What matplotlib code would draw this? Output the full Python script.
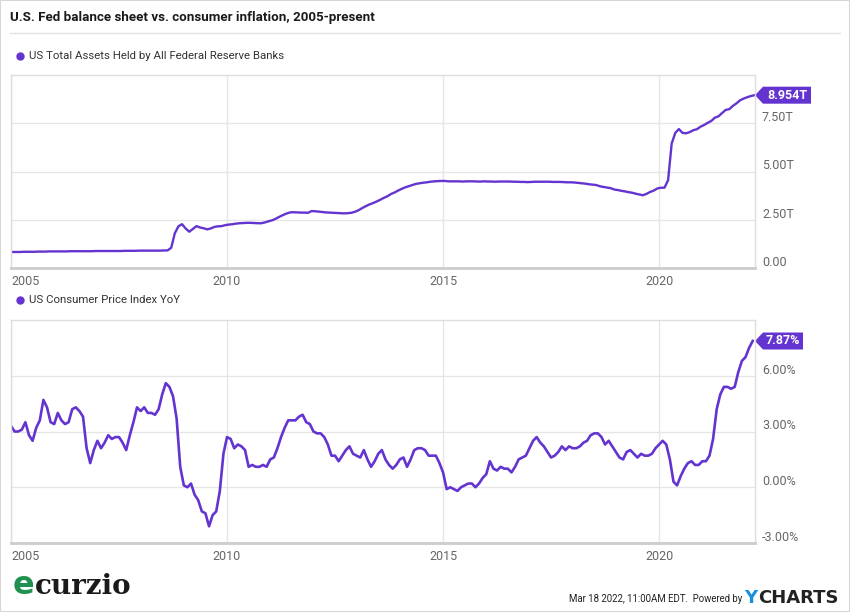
import numpy as np
import matplotlib.pyplot as plt
import matplotlib.transforms as mtransforms
from matplotlib.patches import Polygon, Rectangle
from matplotlib.lines import Line2D

plt.rcParams['font.family'] = ['Roboto', 'DejaVu Sans']

# Fed total assets, trillions USD, monthly Jan 2005 - Mar 2022
fed_assets = [
    0.83, 0.83, 0.83, 0.84, 0.84, 0.84, 0.84, 0.85, 0.85, 0.85, 0.86, 0.86,
    0.86, 0.86, 0.86, 0.86, 0.87, 0.87, 0.87, 0.87, 0.87, 0.87, 0.87, 0.88,
    0.88, 0.88, 0.88, 0.88, 0.88, 0.88, 0.88, 0.89, 0.89, 0.89, 0.89, 0.90,
    0.90, 0.90, 0.90, 0.90, 0.90, 0.90, 0.91, 0.91, 1.05, 1.80, 2.16, 2.27,
    2.05, 1.88, 2.02, 2.17, 2.10, 2.06, 2.00, 2.05, 2.13, 2.16, 2.17, 2.22,
    2.25, 2.27, 2.30, 2.32, 2.33, 2.34, 2.34, 2.33, 2.32, 2.32, 2.36, 2.42,
    2.47, 2.55, 2.65, 2.74, 2.82, 2.88, 2.89, 2.88, 2.87, 2.87, 2.86, 2.95,
    2.94, 2.92, 2.90, 2.88, 2.87, 2.86, 2.85, 2.84, 2.83, 2.84, 2.86, 2.91,
    2.99, 3.10, 3.20, 3.29, 3.36, 3.44, 3.53, 3.63, 3.71, 3.83, 3.91, 4.01,
    4.10, 4.18, 4.24, 4.30, 4.36, 4.39, 4.42, 4.44, 4.47, 4.49, 4.50, 4.51,
    4.51, 4.49, 4.49, 4.49, 4.49, 4.48, 4.49, 4.49, 4.49, 4.48, 4.48, 4.49,
    4.48, 4.48, 4.47, 4.48, 4.48, 4.48, 4.48, 4.47, 4.47, 4.46, 4.46, 4.45,
    4.46, 4.47, 4.47, 4.47, 4.47, 4.47, 4.46, 4.46, 4.46, 4.45, 4.44, 4.44,
    4.43, 4.41, 4.39, 4.37, 4.34, 4.32, 4.30, 4.24, 4.20, 4.17, 4.14, 4.07,
    4.04, 4.00, 3.97, 3.93, 3.90, 3.85, 3.81, 3.77, 3.84, 3.94, 4.01, 4.12,
    4.16, 4.16, 4.55, 6.45, 7.00, 7.20, 7.00, 6.98, 7.04, 7.14, 7.19, 7.32,
    7.41, 7.52, 7.62, 7.79, 7.86, 8.03, 8.19, 8.23, 8.40, 8.53, 8.69, 8.78,
    8.85, 8.91, 8.954,
]

# US CPI year-over-year, %, monthly Dec 2004 - Feb 2022
cpi_yoy = [
    3.3,
    3.0, 3.0, 3.1, 3.5, 2.8, 2.5, 3.2, 3.6, 4.7, 4.3, 3.5, 3.4,
    4.0, 3.6, 3.4, 3.5, 4.2, 4.3, 4.1, 3.8, 2.1, 1.3, 2.0, 2.5,
    2.1, 2.4, 2.8, 2.6, 2.7, 2.7, 2.4, 2.0, 2.8, 3.5, 4.3, 4.1,
    4.3, 4.0, 4.0, 3.9, 4.2, 5.0, 5.6, 5.4, 4.9, 3.7, 1.1, 0.1,
    0.0, 0.2, -0.4, -0.7, -1.3, -1.4, -2.1, -1.5, -1.3, -0.2, 1.8, 2.7,
    2.6, 2.1, 2.3, 2.2, 2.0, 1.1, 1.2, 1.1, 1.1, 1.2, 1.1, 1.5,
    1.6, 2.1, 2.7, 3.2, 3.6, 3.6, 3.6, 3.8, 3.9, 3.5, 3.4, 3.0,
    2.9, 2.9, 2.7, 2.3, 1.7, 1.7, 1.4, 1.7, 2.0, 2.2, 1.8, 1.7,
    1.6, 2.0, 1.5, 1.1, 1.4, 1.8, 2.0, 1.5, 1.2, 1.0, 1.2, 1.5,
    1.6, 1.1, 1.5, 2.0, 2.1, 2.1, 2.0, 1.7, 1.7, 1.7, 1.3, 0.8,
    -0.1, 0.0, -0.1, -0.2, 0.0, 0.1, 0.2, 0.2, 0.0, 0.2, 0.5, 0.7,
    1.4, 1.0, 0.9, 1.1, 1.0, 1.0, 0.8, 1.1, 1.5, 1.6, 1.7, 2.1,
    2.5, 2.7, 2.4, 2.2, 1.9, 1.6, 1.7, 1.9, 2.2, 2.0, 2.2, 2.1,
    2.1, 2.2, 2.4, 2.5, 2.8, 2.9, 2.9, 2.7, 2.3, 2.5, 2.2, 1.9,
    1.6, 1.5, 1.9, 2.0, 1.8, 1.6, 1.8, 1.7, 1.7, 1.8, 2.1, 2.3,
    2.5, 2.3, 1.5, 0.3, 0.1, 0.6, 1.0, 1.3, 1.4, 1.2, 1.2, 1.4,
    1.4, 1.7, 2.6, 4.2, 5.0, 5.4, 5.4, 5.3, 5.4, 6.2, 6.8, 7.0,
    7.5, 7.87,
]

year_ticks = [2005, 2010, 2015, 2020]
fed_ticks = [0, 2.5, 5.0, 7.5]
fed_labels = ['0.00', '2.50T', '5.00T', '7.50T']
cpi_ticks = [-3, 0, 3, 6]
cpi_labels = ['-3.00%', '0.00%', '3.00%', '6.00%']

purple = '#6334cf'
W, H = 850, 612

fed_x = 2005 + (np.arange(len(fed_assets)) + 0.5) / 12
cpi_x = 2005 + np.arange(len(cpi_yoy)) / 12

fig = plt.figure(figsize=(8.5, 6.12), dpi=100)


def px(x, y):
    return x / W, 1 - y / H


def make_axes(top, bottom):
    ax = fig.add_axes([11 / W, 1 - bottom / H, 744 / W, (bottom - top) / H])
    return ax


def style(ax, ticks, labels, ylim, last_val, last_txt, badge_w):
    ax.set_xlim(2005, 2022.22)
    ax.set_ylim(*ylim)
    ax.set_yticks(ticks)
    ax.set_xticks(year_ticks)
    ax.set_xticklabels([str(y) for y in year_ticks])
    ax.tick_params(left=False, labelleft=False, bottom=False, length=0,
                   labelsize=9, labelcolor='#666666', pad=5)
    ax.get_xticklabels()[0].set_horizontalalignment('left')
    ax.grid(color='#e6e6e6', lw=1)
    ax.set_axisbelow(True)
    for s in ax.spines.values():
        s.set_color('#dddddd')
        s.set_linewidth(1)
    ax.spines['bottom'].set_color('#cccccc')
    ax.spines['bottom'].set_linewidth(2)
    yt = ax.get_yaxis_transform()
    for v, lbl in zip(ticks, labels):
        ax.annotate(lbl, xy=(1, v), xycoords=yt, xytext=(5, 4),
                    textcoords='offset points', ha='left', va='center',
                    fontsize=9, color='#666666', annotation_clip=False)
    # value badge with arrow
    tr = fig.dpi_scale_trans + mtransforms.ScaledTranslation(1, last_val, yt)
    h = 0.085
    badge = Polygon([(0, 0), (0.08, h), (badge_w, h), (badge_w, -h), (0.08, -h)],
                    closed=True, transform=tr, fc=purple, ec='none', clip_on=False)
    ax.add_artist(badge)
    ax.annotate(last_txt, xy=(1, last_val), xycoords=yt,
                xytext=((badge_w + 0.08) / 2 * 72, 0), textcoords='offset points',
                ha='center', va='center', fontsize=9, fontweight='bold',
                color='white', annotation_clip=False)


ax1 = make_axes(75, 268)
ax1.plot(fed_x, fed_assets, color=purple, lw=1.7)
style(ax1, fed_ticks, fed_labels, (0, 10), fed_assets[-1], '8.954T', 0.56)

ax2 = make_axes(320, 543)
ax2.plot(cpi_x, cpi_yoy, color=purple, lw=1.9)
style(ax2, cpi_ticks, cpi_labels, (-3, 9), cpi_yoy[-1], '7.87%', 0.48)

# title and separator
fig.text(*px(10, 17), 'U.S. Fed balance sheet vs. consumer inflation, 2005-present',
         fontsize=9.6, fontweight='bold', color='#1a1a1a', va='center')
fig.add_artist(Line2D([10 / W, 840 / W], [1 - 33 / H] * 2, color='#e2e2e2', lw=1,
                      transform=fig.transFigure))

# series labels
for y, name in [(56, 'US Total Assets Held by All Federal Reserve Banks'),
                (300, 'US Consumer Price Index YoY')]:
    fig.add_artist(Line2D([20 / W], [1 - y / H], marker='o', ms=5, color=purple,
                          transform=fig.transFigure))
    fig.text(*px(29, y), name, fontsize=8.2, color='#333333', va='center')

# footer
fig.text(*px(13, 586), 'e', fontsize=23, fontweight='bold', color='#1f9150',
         family='DejaVu Sans', va='center')
fig.text(*px(35, 586), 'curzio', fontsize=20, fontweight='bold', color='#1a1a1a',
         family='DejaVu Serif', va='center')
fig.text(*px(742, 599), 'Mar 18 2022, 11:00AM EDT.  Powered by', fontsize=6.9,
         color='#222222', ha='right', va='center')
fig.text(*px(744, 598), 'Y', fontsize=13, fontweight='bold', color='#1a8fe0',
         family='DejaVu Sans', va='center')
fig.text(*px(758, 598), 'CHARTS', fontsize=13, fontweight='bold', color='#222222',
         family='DejaVu Sans', va='center')

fig.add_artist(Rectangle((0, 0), 1, 1, transform=fig.transFigure, fill=False,
                         ec='#d6d6d6', lw=1.5))

fig.savefig('out.png', dpi=100)
